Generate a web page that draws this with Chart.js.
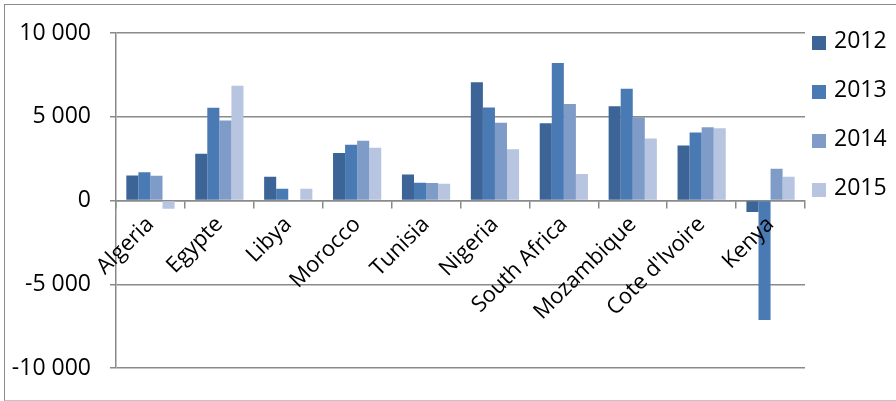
<!DOCTYPE html>
<html>
<head>
<meta charset="utf-8">
<script src="https://cdn.jsdelivr.net/npm/chart.js@4.4.1/dist/chart.umd.min.js"></script>
<style>
  html, body { margin: 0; padding: 0; background: #fff; }
  #wrap { position: relative; width: 896px; height: 401px; }
  #frame { position: absolute; left: 4px; top: 4px; width: 1000px; height: 395px;
           border-left: 1.5px solid #8a8a8a; border-top: 1.5px solid #8a8a8a; border-bottom: 1.5px solid #c4c4c4;
           pointer-events: none; }
  canvas { position: absolute; left: 0; top: 0; }
</style>
</head>
<body>
<div id="wrap">
  <canvas id="c" width="896" height="401"></canvas>
  <div id="frame"></div>
</div>
<script>
const categories = ['Algeria', 'Egypte', 'Libya', 'Morocco', 'Tunisia', 'Nigeria', 'South Africa', 'Mozambique', "Cote d'Ivoire", 'Kenya'];
const seriesNames = ['2012', '2013', '2014', '2015'];
const values2012 = [1500, 2800, 1430, 2840, 1550, 7060, 4620, 5630, 3290, -680];
const values2013 = [1690, 5540, 700, 3330, 1070, 5560, 8210, 6670, 4070, -7120];
const values2014 = [1490, 4780, 0, 3570, 1050, 4640, 5770, 4980, 4370, 1900];
const values2015 = [-490, 6860, 710, 3160, 1010, 3060, 1590, 3710, 4310, 1430];
const yTicks = [-10000, -5000, 0, 5000, 10000];

const colors = ['#3c6496', '#4a7ab3', '#7f9cc9', '#b7c5e0'];
const FONT = 'Open Sans';

function fmt(v) {
  return String(v).replace(/\B(?=(\d{3})+(?!\d))/g, ' ');
}

const legendPlugin = {
  id: 'sideLegend',
  afterDraw(chart, args, opts) {
    const ctx = chart.ctx;
    ctx.save();
    ctx.font = opts.fontSize + 'px "' + FONT + '"';
    ctx.textBaseline = 'middle';
    ctx.textAlign = 'left';
    chart.data.datasets.forEach((ds, i) => {
      const cy = opts.y0 + i * opts.step;
      ctx.fillStyle = ds.backgroundColor;
      ctx.fillRect(opts.x, cy - opts.box / 2 + 2, opts.box, opts.box);
      ctx.fillStyle = '#000';
      ctx.fillText(ds.label, opts.x + opts.box + 8, cy);
    });
    ctx.restore();
  }
};

const datasets = [values2012, values2013, values2014, values2015].map((vals, i) => ({
  label: seriesNames[i],
  data: vals,
  backgroundColor: colors[i],
  borderWidth: 0,
  categoryPercentage: 0.7,
  barPercentage: 1.0
}));

new Chart(document.getElementById('c'), {
  type: 'bar',
  data: { labels: categories, datasets },
  plugins: [legendPlugin],
  options: {
    responsive: false,
    animation: false,
    events: [],
    layout: { padding: { left: 0, right: 91, top: 33, bottom: 32 } },
    plugins: {
      legend: { display: false },
      tooltip: { enabled: false },
      sideLegend: { x: 812, y0: 41, step: 49, box: 14, fontSize: 23 }
    },
    scales: {
      x: {
        type: 'category',
        position: { y: 0 },
        grid: { drawOnChartArea: false, drawTicks: true, tickLength: 7, color: '#8a8a8a', lineWidth: 1.5, offset: true },
        border: { display: true, color: '#8a8a8a', width: 1.5 },
        ticks: {
          z: 1,
          autoSkip: false, minRotation: 45, maxRotation: 45, padding: 4,
          color: '#000', font: { family: FONT, size: 22 }
        }
      },
      y: {
        min: -10000, max: 10000,
        afterFit(scale) { scale.width = 116; },
        afterBuildTicks(scale) { scale.ticks = yTicks.map(v => ({ value: v })); },
        grid: { color: '#8a8a8a', lineWidth: 1.5, tickLength: 6, drawTicks: true },
        border: { display: true, color: '#8a8a8a', width: 1.5 },
        ticks: {
          padding: 19, color: '#000', font: { family: FONT, size: 23 },
          callback: (v) => fmt(v)
        }
      }
    }
  }
});
</script>
</body>
</html>
